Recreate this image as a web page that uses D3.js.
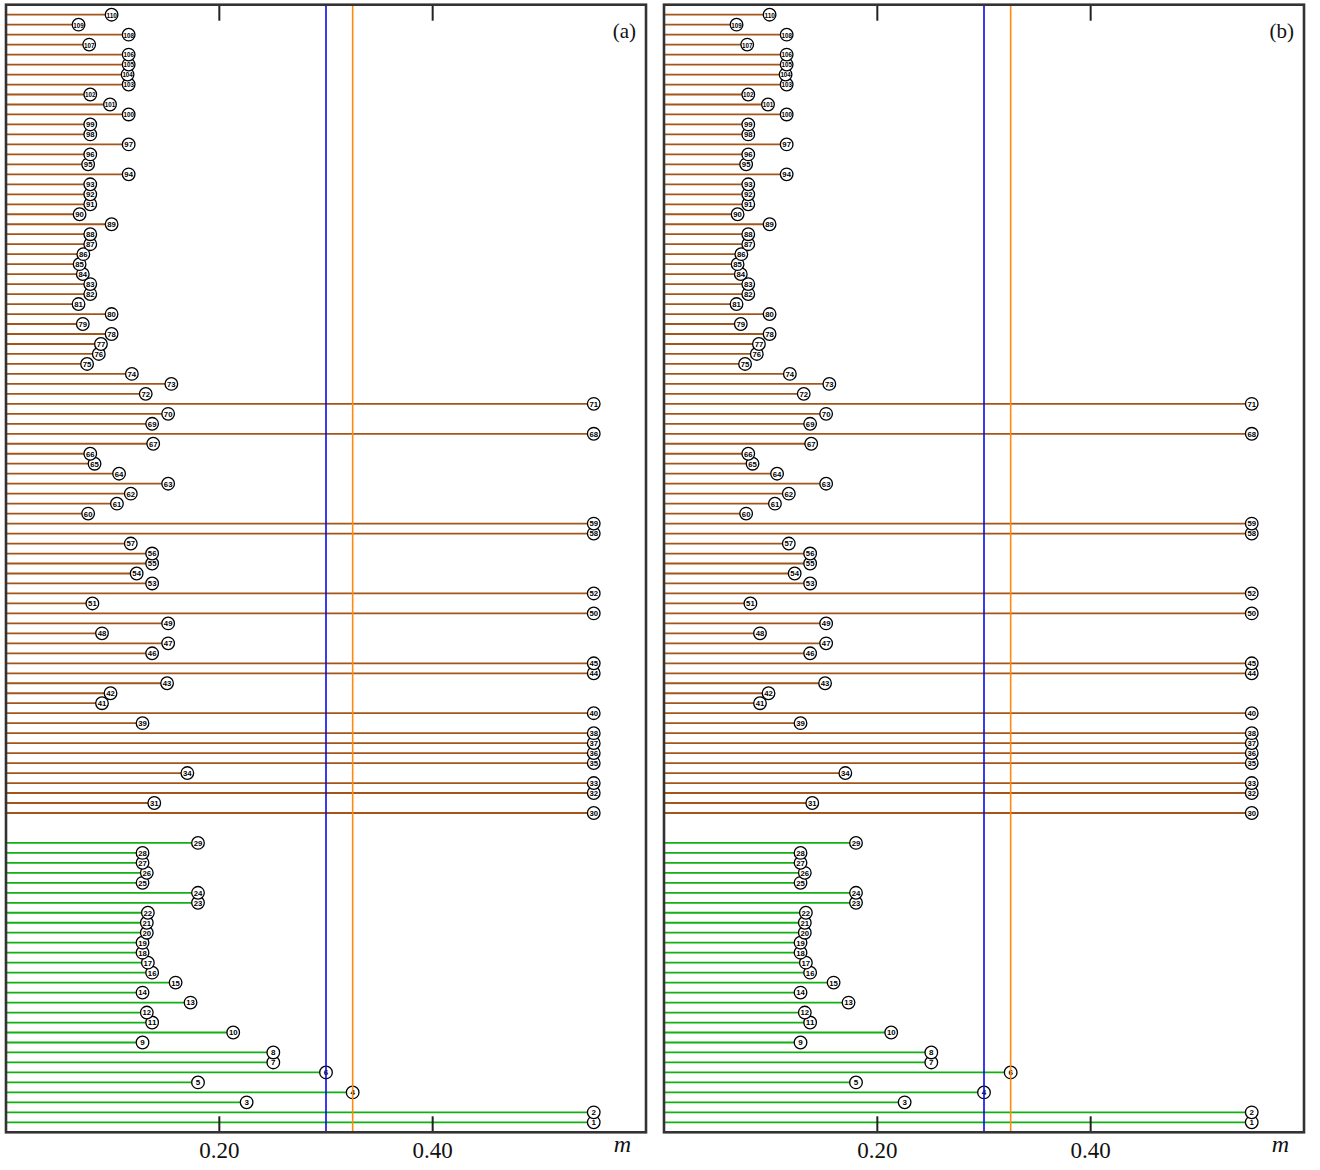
<!DOCTYPE html>
<html>
<head>
<meta charset="utf-8">
<script src="https://cdn.jsdelivr.net/npm/d3@7"></script>
<style>
  body { margin: 0; background: #fff; }
  svg { display: block; }
</style>
</head>
<body>
<svg id="chart" width="1320" height="1170"></svg>
<script>
// Item identifiers 1..110; the first group (1-29) is drawn green, the rest brown.
const items = d3.range(1, 111);
const firstGroupLast = 29;

// m value of each item, panel (a), in item order 1..110
const valuesA = [
  0.551, 0.551, 0.2256, 0.325, 0.180, 0.300, 0.2506, 0.2506, 0.128, 0.213,
  0.137, 0.132, 0.173, 0.128, 0.159, 0.137, 0.133, 0.128, 0.128, 0.132,
  0.132, 0.133, 0.180, 0.180, 0.128, 0.132, 0.128, 0.128, 0.180, 0.551,
  0.139, 0.551, 0.551, 0.170, 0.551, 0.551, 0.551, 0.551, 0.128, 0.551,
  0.090, 0.098, 0.151, 0.551, 0.551, 0.137, 0.152, 0.090, 0.152, 0.551,
  0.081, 0.551, 0.137, 0.1225, 0.137, 0.137, 0.117, 0.551, 0.551, 0.077,
  0.104, 0.117, 0.152, 0.106, 0.083, 0.079, 0.138, 0.551, 0.137, 0.152,
  0.551, 0.131, 0.155, 0.118, 0.076, 0.087, 0.089, 0.099, 0.072, 0.099,
  0.068, 0.079, 0.079, 0.072, 0.069, 0.0725, 0.079, 0.079, 0.099, 0.069,
  0.079, 0.079, 0.079, 0.115, 0.077, 0.079, 0.115, 0.079, 0.079, 0.115,
  0.0975, 0.079, 0.115, 0.114, 0.115, 0.115, 0.078, 0.115, 0.068, 0.099
];

// Panel (b): identical except items 4 and 6 trade places
const valuesB = valuesA.slice();
valuesB[3] = 0.300;
valuesB[5] = 0.325;

const thresholds = [0.300, 0.325];
const thresholdColors = ["#0a0ae6", "#ff8a10"];
const tickValues = [0.20, 0.40];
const tickLabels = ["0.20", "0.40"];
const panelLabels = ["(a)", "(b)"];
const axisTitle = "m";

const svg = d3.select("#chart");

// Row position: a two-row gap separates the two groups
const rowPos = id => id <= firstGroupLast ? id - 1 : id + 1;
const y = d3.scaleLinear().domain([-1, 112]).range([1132.3, 4.7]);

const panels = [
  { values: valuesA, x0: 6, label: panelLabels[0] },
  { values: valuesB, x0: 664, label: panelLabels[1] }
];

const greenCol = "#12b012";
const brownCol = "#a4561a";

panels.forEach(p => {
  const x = d3.scaleLinear().domain([0, 0.6]).range([p.x0, p.x0 + 640]);
  const g = svg.append("g");
  const data = items.map((id, i) => ({ id, v: p.values[i] }));

  // stems from the left edge
  g.selectAll("line.stem").data(data).join("line")
    .attr("class", "stem")
    .attr("x1", x(0)).attr("x2", d => x(d.v))
    .attr("y1", d => y(rowPos(d.id))).attr("y2", d => y(rowPos(d.id)))
    .attr("stroke", d => d.id <= firstGroupLast ? greenCol : brownCol)
    .attr("stroke-width", 1.8);

  // numbered markers
  const mk = g.selectAll("g.mk").data(data).join("g")
    .attr("class", "mk")
    .attr("transform", d => `translate(${x(d.v)},${y(rowPos(d.id))})`);
  mk.append("circle").attr("r", 6.3)
    .attr("fill", "#fff").attr("stroke", "#000").attr("stroke-width", 1.3);
  mk.append("text")
    .attr("text-anchor", "middle").attr("dy", "0.36em")
    .attr("font-family", "Liberation Sans, Arial, sans-serif")
    .attr("font-size", 8)
    .attr("font-weight", "bold")
    .attr("fill", "#000")
    .each(function (d) {
      const s = String(d.id);
      const t = d3.select(this).text(s);
      if (s.length === 3) t.attr("textLength", 10.4).attr("lengthAdjust", "spacingAndGlyphs");
      if (s.length === 2) t.attr("textLength", 8.6).attr("lengthAdjust", "spacingAndGlyphs");
    });

  // threshold lines
  thresholds.forEach((t, i) => {
    g.append("line")
      .attr("x1", x(t)).attr("x2", x(t))
      .attr("y1", y(112)).attr("y2", y(-1))
      .attr("stroke", thresholdColors[i]).attr("stroke-width", 1.6);
  });

  // ticks top and bottom, pointing inward
  tickValues.forEach((t, i) => {
    g.append("line").attr("x1", x(t)).attr("x2", x(t))
      .attr("y1", y(-1)).attr("y2", y(-1) - 16)
      .attr("stroke", "#222").attr("stroke-width", 2);
    g.append("line").attr("x1", x(t)).attr("x2", x(t))
      .attr("y1", y(112)).attr("y2", y(112) + 16)
      .attr("stroke", "#222").attr("stroke-width", 2);
    g.append("text").attr("x", x(t)).attr("y", 1158)
      .attr("text-anchor", "middle")
      .attr("font-family", "Liberation Serif, Times New Roman, serif")
      .attr("font-size", 23).attr("fill", "#111")
      .text(tickLabels[i]);
  });

  // frame
  g.append("rect")
    .attr("x", x(0)).attr("y", y(112))
    .attr("width", x(0.6) - x(0)).attr("height", y(-1) - y(112))
    .attr("fill", "none").attr("stroke", "#333").attr("stroke-width", 2.6);

  // axis title and panel tag
  g.append("text").attr("x", x(0.578)).attr("y", 1152)
    .attr("text-anchor", "middle")
    .attr("font-family", "Liberation Serif, Times New Roman, serif")
    .attr("font-style", "italic").attr("font-size", 24).attr("fill", "#111")
    .text(axisTitle);
  g.append("text").attr("x", x(0.6) - 10).attr("y", 38)
    .attr("text-anchor", "end")
    .attr("font-family", "Liberation Serif, Times New Roman, serif")
    .attr("font-size", 21).attr("fill", "#111")
    .text(p.label);
});
</script>
</body>
</html>
